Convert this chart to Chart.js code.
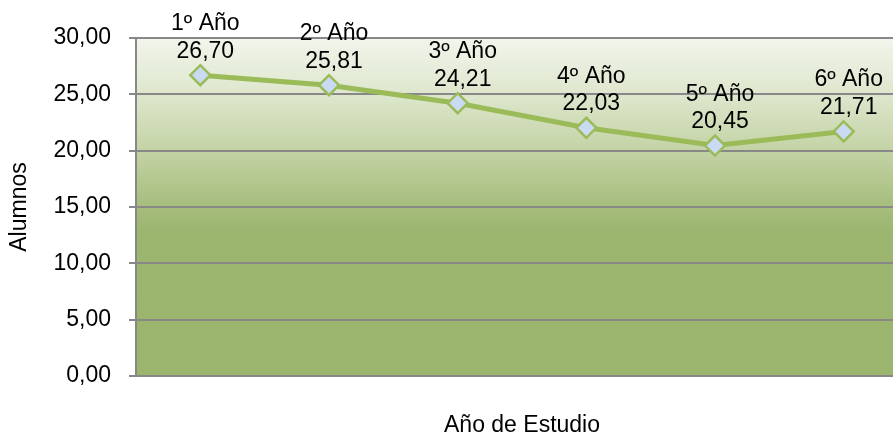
<!DOCTYPE html>
<html>
<head>
<meta charset="utf-8">
<script src="https://cdn.jsdelivr.net/npm/chart.js@4"></script>
<style>
  html, body { margin: 0; padding: 0; background: #fff; overflow: hidden; }
  #wrap { width: 908px; height: 440px; overflow: hidden; }
  #alumnosChart { display: block; width: 908px; height: 440px; }
</style>
</head>
<body>
<div id="wrap"><canvas id="alumnosChart" width="908" height="440"></canvas></div>
<script>
// datos del grafico
const categorias = ['1º Año', '2º Año', '3º Año', '4º Año', '5º Año', '6º Año'];
const alumnos = [26.70, 25.81, 24.21, 22.03, 20.45, 21.71];
const yMin = 0, yMax = 30, yStep = 5;

const FONT = "'Liberation Sans', Arial, sans-serif";
const fmt = v => v.toFixed(2).replace('.', ',');

// fondo degradado del area de trazado
const plotBackground = {
  id: 'plotBackground',
  beforeDraw(chart) {
    const {ctx, chartArea: a} = chart;
    const g = ctx.createLinearGradient(0, a.top, 0, a.bottom);
    g.addColorStop(0, '#f2f5ec');
    g.addColorStop(0.17, '#dde6cc');
    g.addColorStop(0.33, '#c4d3a6');
    g.addColorStop(0.5, '#a6bd7c');
    g.addColorStop(0.57, '#9cb670');
    g.addColorStop(1, '#9bb56f');
    ctx.save();
    ctx.fillStyle = g;
    ctx.fillRect(a.left, a.top, a.right - a.left, a.bottom - a.top);
    ctx.restore();
  }
};

// etiquetas: categoria + valor encima de cada punto
const pointLabels = {
  id: 'pointLabels',
  afterDatasetsDraw(chart) {
    const {ctx} = chart;
    const meta = chart.getDatasetMeta(0);
    ctx.save();
    ctx.font = '23px ' + FONT;
    ctx.fillStyle = '#000';
    ctx.textAlign = 'center';
    ctx.textBaseline = 'alphabetic';
    meta.data.forEach((pt, i) => {
      const x = pt.x + 5;
      ctx.fillText(fmt(alumnos[i]), x, pt.y - 17.5);
      ctx.fillText(categorias[i], x, pt.y - 17.5 - 27.5);
    });
    ctx.restore();
  }
};

new Chart(document.getElementById('alumnosChart'), {
  type: 'line',
  data: {
    labels: categorias,
    datasets: [{
      data: alumnos,
      borderColor: '#9bbb59',
      borderWidth: 5,
      tension: 0,
      pointStyle: 'rectRot',
      pointRadius: 10,
      pointHoverRadius: 10,
      pointBackgroundColor: '#c9daf2',
      pointBorderColor: '#9bbb59',
      pointBorderWidth: 2.5
    }]
  },
  options: {
    responsive: false,
    animation: false,
    devicePixelRatio: 1,
    layout: { autoPadding: false, padding: { top: 38, left: 0, right: 0, bottom: 0 } },
    plugins: {
      legend: { display: false },
      tooltip: { enabled: false }
    },
    scales: {
      x: {
        type: 'category',
        offset: true,
        grid: { display: false },
        border: { display: true, color: '#888888', width: 2 },
        ticks: { display: false },
        title: {
          display: true,
          text: 'Año de Estudio',
          color: '#000',
          font: { family: FONT, size: 23 },
          padding: { top: 0, bottom: 1 }
        },
        afterFit(scale) { scale.height = 64; }
      },
      y: {
        min: yMin,
        max: yMax,
        ticks: {
          stepSize: yStep,
          color: '#000',
          font: { family: FONT, size: 23 },
          padding: 18,
          callback: v => fmt(v)
        },
        grid: {
          color: '#888888',
          lineWidth: 2,
          tickLength: 7,
          tickColor: '#888888'
        },
        border: { display: true, color: '#888888', width: 2 },
        title: {
          display: true,
          text: 'Alumnos',
          color: '#000',
          font: { family: FONT, size: 23 },
          padding: { top: 6, bottom: 0 }
        },
        afterFit(scale) { scale.width = 136; }
      }
    }
  },
  plugins: [plotBackground, pointLabels]
});
</script>
</body>
</html>
